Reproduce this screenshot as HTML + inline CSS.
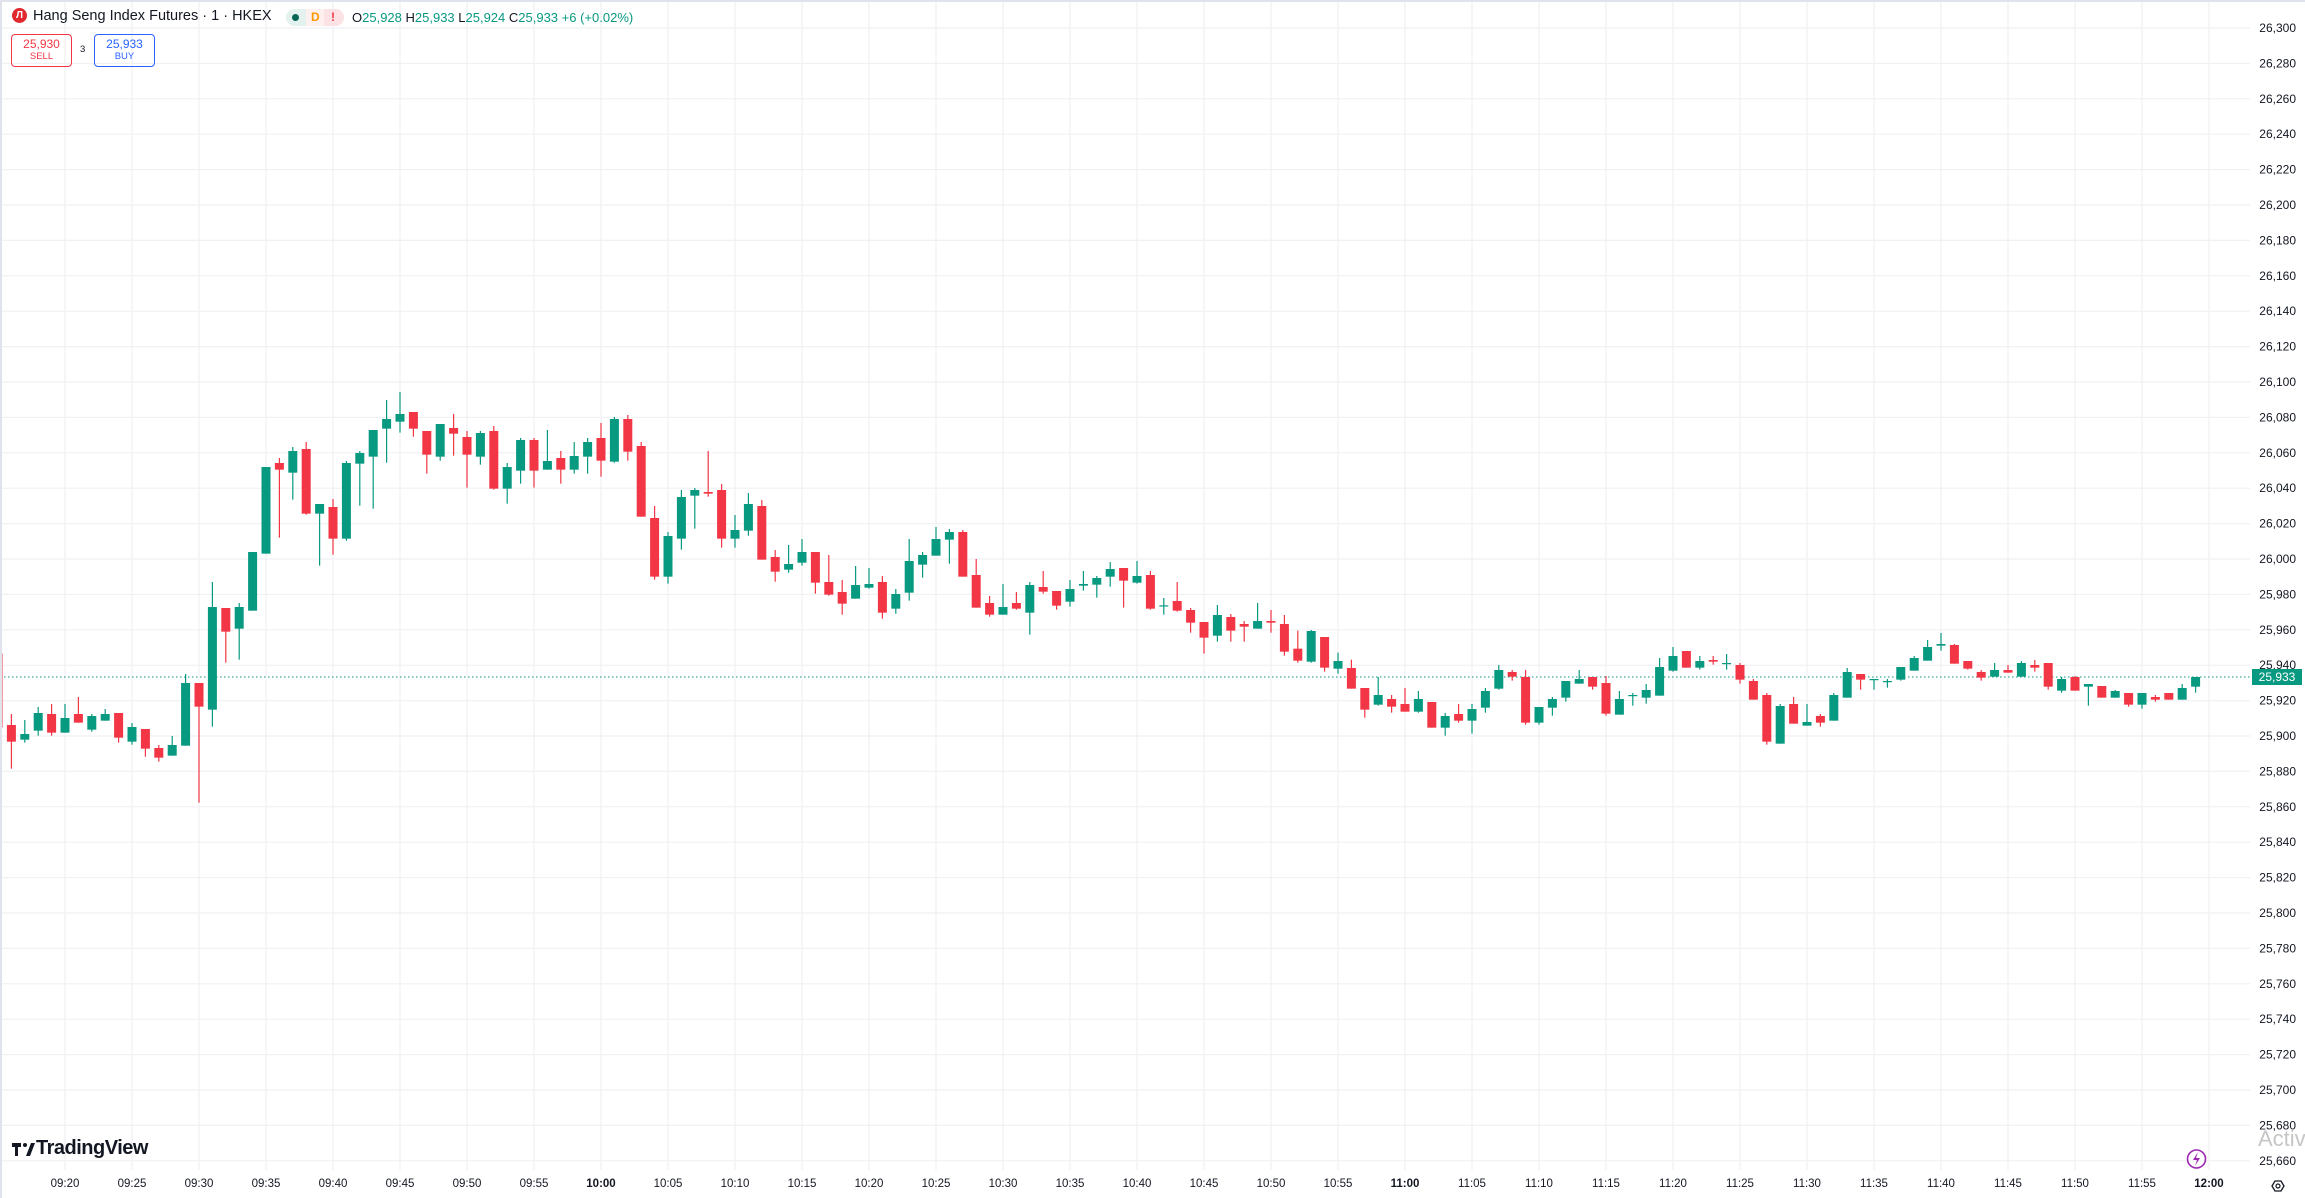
<!DOCTYPE html>
<html><head><meta charset="utf-8"><style>
html,body{margin:0;padding:0;background:#fff;}
body{width:2305px;height:1198px;position:relative;overflow:hidden;font-family:"Liberation Sans",sans-serif;color:#131722;}
svg{position:absolute;left:0;top:0;}
.abs{position:absolute;white-space:nowrap;}
</style></head><body>
<svg id="c" width="2305" height="1198" xmlns="http://www.w3.org/2000/svg"></svg>

<div class="abs" style="left:0;top:0;width:2305px;height:2px;background:#e0e3eb"></div>
<div class="abs" style="left:0;top:0;width:2px;height:1198px;background:#e0e3eb"></div>

<div class="abs" style="left:12px;top:8px;width:15px;height:15px;border-radius:50%;background:#e0292f;color:#fff;font-size:10px;font-weight:bold;text-align:center;line-height:15px;">Л</div>
<div class="abs" style="left:33px;top:8px;font-size:14.5px;line-height:16px;">Hang Seng Index Futures · 1 · HKEX</div>
<div class="abs" style="left:286px;top:9px;width:58px;height:17px;border-radius:9px;background:#fdf0ee;"></div>
<div class="abs" style="left:286px;top:9px;width:20px;height:17px;border-radius:9px 0 0 9px;background:#e3f2ee;"></div>
<div class="abs" style="left:292px;top:14px;width:7px;height:7px;border-radius:50%;background:#056656;"></div>
<div class="abs" style="left:311px;top:9px;font-size:12px;line-height:17px;color:#ff9800;font-weight:bold;">D</div>
<div class="abs" style="left:324px;top:9px;width:20px;height:17px;border-radius:0 9px 9px 0;background:#fbe3e5;"></div>
<div class="abs" style="left:331px;top:9px;font-size:12px;line-height:17px;color:#f23645;font-weight:bold;">!</div>
<div class="abs" style="left:352px;top:10px;font-size:13px;line-height:16px;">O<span style="color:#089981">25,928</span> H<span style="color:#089981">25,933</span> L<span style="color:#089981">25,924</span> C<span style="color:#089981">25,933</span> <span style="color:#089981">+6 (+0.02%)</span></div>

<div class="abs" style="left:11px;top:34px;width:59px;height:31px;border:1px solid #f23645;border-radius:4px;color:#f23645;text-align:center;">
<div style="font-size:12px;line-height:14px;margin-top:2px;">25,930</div><div style="font-size:9.5px;line-height:12px;">SELL</div></div>
<div class="abs" style="left:80px;top:44px;font-size:9.5px;">3</div>
<div class="abs" style="left:94px;top:34px;width:59px;height:31px;border:1px solid #2962ff;border-radius:4px;color:#2962ff;text-align:center;">
<div style="font-size:12px;line-height:14px;margin-top:2px;">25,933</div><div style="font-size:9.5px;line-height:12px;">BUY</div></div>

<svg width="40" height="20" style="left:12px;top:1140px;"><path d="M0 3h9v4H6v9H3V7H0z M14 16l5-13h4l-5 13z" fill="#131722"/><circle cx="13" cy="5" r="2" fill="#131722"/></svg>
<div class="abs" style="left:36px;top:1137px;font-size:20px;font-weight:bold;letter-spacing:-0.5px;">TradingView</div>

<div class="abs" style="left:2258px;top:1126px;font-size:22px;color:#c6c6c6;">Activ</div>

<div class="abs" style="left:2252px;top:669px;width:50px;height:16px;background:#089981;color:#fff;font-size:12px;line-height:16px;text-align:center;">25,933</div>

<script>
var s=document.getElementById('c'),h='';
function Y(zy){return zy/3+380;}
function py(p){return 28+(26300-p)*1.77;}
for(var p=26300;p>=25660;p-=20){var y=py(p);h+='<line x1="0" x2="2250" y1="'+y+'" y2="'+y+'" stroke="#f0f1f3" stroke-width="1.2"/>';}
var times=['09:20','09:25','09:30','09:35','09:40','09:45','09:50','09:55','10:00','10:05','10:10','10:15','10:20','10:25','10:30','10:35','10:40','10:45','10:50','10:55','11:00','11:05','11:10','11:15','11:20','11:25','11:30','11:35','11:40','11:45','11:50','11:55','12:00'];
for(var k=0;k<times.length;k++){var x=65+k*67;h+='<line x1="'+x+'" x2="'+x+'" y1="0" y2="1170" stroke="#f0f1f3" stroke-width="1.2"/>';
var b=(times[k].slice(3)=='00');h+='<text x="'+x+'" y="1187" font-size="11.5" text-anchor="middle" fill="#131722"'+(b?' font-weight="bold"':'')+' font-family="Liberation Sans,sans-serif">'+times[k]+'</text>';}
for(var p=26300;p>=25660;p-=20){var y=py(p);h+='<text x="2296" y="'+(y+4)+'" font-size="12" text-anchor="end" fill="#131722" font-family="Liberation Sans,sans-serif">'+(p+'').replace(/(\d\d)(\d\d\d)/,'$1,$2')+'</text>';}
h+='<line x1="0" x2="2250" y1="677" y2="677" stroke="#089981" stroke-width="1" stroke-dasharray="1.5,2.5"/>';
var d="r,820,1043,820,1043|r,1035,1085,1002,1166|g,1062,1079,1020,1088|g,999,1052,981,1067|r,1002,1058,972,1067|g,1014,1058,972,1058|r,1002,1028,951,1028|g,1008,1049,1002,1055|g,1002,1022,987,1022|r,999,1073,999,1088|g,1041,1085,1029,1094|r,1047,1106,1047,1130|r,1104,1133,1095,1145|g,1095,1127,1068,1127|g,909,1097,882,1097|r,909,980,909,1268|g,681,989,606,1040|r,684,755,684,848|g,681,746,669,839|g,516,692,516,692|g,261,521,261,521|r,249,269,234,473|g,213,278,201,359|r,207,401,186,404|g,372,401,372,557|r,381,476,357,524|g,249,476,243,482|g,219,251,213,377|g,150,230,150,386|g,117,146,60,248|g,102,125,36,158|r,96,146,96,170|r,153,224,153,281|g,132,230,132,242|r,144,161,102,227|r,171,224,153,323|g,159,230,153,254|r,153,326,138,329|g,261,326,249,371|g,180,272,174,311|r,180,272,174,323|g,243,269,150,269|r,234,269,213,311|g,228,269,186,281|g,186,230,174,281|r,174,242,129,290|g,117,245,111,248|r,117,215,105,242|r,198,410,186,410|r,414,590,378,599|g,468,590,456,611|g,351,476,330,509|g,330,347,324,446|r,336,341,213,350|r,330,476,312,503|g,450,476,405,503|g,372,452,339,467|r,378,539,360,539|r,531,575,510,605|g,552,569,495,578|g,516,548,477,557|r,516,608,516,641|r,606,644,525,647|r,636,671,600,704|g,615,656,558,656|g,612,623,564,626|r,606,698,588,716|g,642,686,627,701|g,543,638,477,662|g,525,554,516,593|g,477,527,441,527|g,456,479,447,551|r,456,590,450,590|r,585,683,537,683|r,669,704,648,710|g,681,704,612,704|r,669,686,636,689|g,615,698,606,764|r,621,635,573,641|r,633,677,633,689|g,627,665,600,680|g,612,617,573,632|g,594,614,588,653|g,567,590,546,620|r,564,602,564,683|g,588,608,543,611|r,585,686,573,689|g,676,678,654,704|r,663,692,606,695|r,690,728,684,758|r,726,773,726,821|g,705,767,675,785|r,711,752,702,785|r,732,740,723,785|g,723,746,669,746|r,723,728,690,758|r,732,815,705,827|r,806,842,752,848|g,753,845,750,848|r,771,863,771,875|g,843,866,818,881|r,864,926,839,926|r,924,989,924,1013|g,945,974,891,977|r,957,980,945,998|r,972,995,924,995|g,957,995,933,998|r,966,1043,966,1043|g,1008,1043,999,1067|r,1002,1022,972,1028|g,987,1022,972,1061|g,933,983,924,998|g,870,926,855,929|r,876,890,870,902|r,891,1028,870,1034|g,981,1028,981,1034|g,957,983,951,1007|g,903,953,903,965|g,897,911,870,911|r,891,920,891,929|r,909,1001,888,1007|g,957,1004,933,1004|g,945,947,939,977|g,930,953,912,971|g,861,947,834,947|g,828,872,801,875|r,813,863,813,863|g,843,863,828,869|r,840,845,828,854|g,849,851,822,869|r,855,899,849,911|r,903,959,897,959|r,945,1085,939,1094|g,978,1091,972,1091|r,972,1031,951,1031|g,1026,1037,972,1037|r,1008,1028,1002,1040|g,945,1022,939,1022|g,876,953,864,953|r,882,899,882,929|g,897,899,897,929|g,903,905,897,923|g,861,899,861,902|g,834,872,828,872|g,801,842,780,842|g,792,797,759,812|r,795,851,792,851|r,843,866,843,869|r,876,893,870,902|g,870,890,849,890|r,870,878,855,878|g,849,890,843,890|r,855,863,840,875|r,849,920,849,929|g,897,932,891,938|r,891,932,888,932|g,912,920,912,977|r,918,953,918,953|g,933,953,930,953|r,939,974,939,980|g,939,974,939,986|r,951,959,945,965|r,939,959,939,959|g,924,959,912,959|g,891,920,891,938".split('|');
for(var i=0;i<d.length;i++){var a=d[i].split(','),c=a[0]=='g'?'#089981':'#f23645';var x=65+(i-5)*13.4;
var bt=Y(+a[1]),bb=Y(+a[2]),wt=Y(+a[3]),wb=Y(+a[4]);if(bb-bt<1.2)bb=bt+1.2;
h+='<rect x="'+(x-0.6)+'" y="'+wt+'" width="1.2" height="'+(wb-wt)+'" fill="'+c+'"/>';
h+='<rect x="'+(x-4.5)+'" y="'+bt+'" width="9" height="'+(bb-bt)+'" fill="'+c+'"/>';}
h+='<circle cx="2196.5" cy="1159" r="9" fill="none" stroke="#9c27b0" stroke-width="1.6"/><path d="M2198 1152l-5 8h4l-2 6 5-8h-4z" fill="#9c27b0"/>';
h+='<polygon points="2272,1186 2275,1181 2281,1181 2284,1186 2281,1191 2275,1191" fill="none" stroke="#131722" stroke-width="1.3"/><circle cx="2278" cy="1186" r="2" fill="none" stroke="#131722" stroke-width="1.2"/>';
s.innerHTML=h;
</script>
</body></html>
